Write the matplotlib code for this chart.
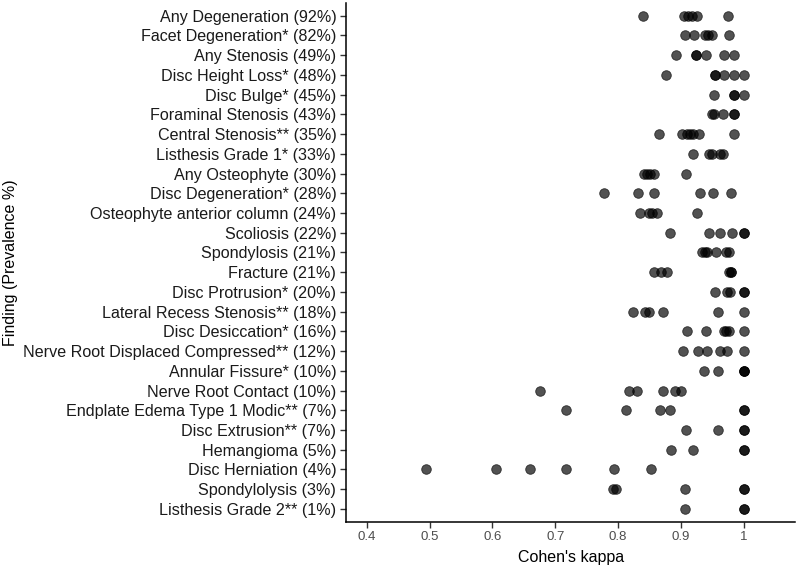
import matplotlib.pyplot as plt

plt.rcParams['font.family'] = ['Liberation Sans', 'DejaVu Sans']

# Findings, top to bottom
findings = [
    'Any Degeneration (92%)', 'Facet Degeneration* (82%)', 'Any Stenosis (49%)',
    'Disc Height Loss* (48%)', 'Disc Bulge* (45%)', 'Foraminal Stenosis (43%)',
    'Central Stenosis** (35%)', 'Listhesis Grade 1* (33%)', 'Any Osteophyte (30%)',
    'Disc Degeneration* (28%)', 'Osteophyte anterior column (24%)', 'Scoliosis (22%)',
    'Spondylosis (21%)', 'Fracture (21%)', 'Disc Protrusion* (20%)',
    'Lateral Recess Stenosis** (18%)', 'Disc Desiccation* (16%)',
    'Nerve Root Displaced Compressed** (12%)', 'Annular Fissure* (10%)',
    'Nerve Root Contact (10%)', 'Endplate Edema Type 1 Modic** (7%)',
    'Disc Extrusion** (7%)', 'Hemangioma (5%)', 'Disc Herniation (4%)',
    'Spondylolysis (3%)', 'Listhesis Grade 2** (1%)',
]

# Cohen's kappa values per finding
kappas = [
    [0.839, 0.905, 0.911, 0.918, 0.925, 0.975],
    [0.906, 0.921, 0.939, 0.943, 0.949, 0.977],
    [0.893, 0.924, 0.924, 0.940, 0.969, 0.985],
    [0.877, 0.955, 0.955, 0.969, 0.985, 1.0],
    [0.953, 0.985, 0.985, 1.0],
    [0.949, 0.953, 0.967, 0.985, 0.985],
    [0.866, 0.902, 0.910, 0.915, 0.919, 0.929, 0.984],
    [0.919, 0.945, 0.950, 0.963, 0.967],
    [0.842, 0.846, 0.851, 0.857, 0.908],
    [0.778, 0.832, 0.857, 0.930, 0.951, 0.980],
    [0.835, 0.849, 0.854, 0.862, 0.925],
    [0.883, 0.944, 0.963, 0.981, 1.0, 1.0],
    [0.933, 0.938, 0.942, 0.956, 0.972, 0.977],
    [0.857, 0.868, 0.878, 0.976, 0.980, 0.980],
    [0.955, 0.973, 0.978, 1.0, 1.0],
    [0.824, 0.843, 0.849, 0.871, 0.959, 1.0],
    [0.910, 0.940, 0.968, 0.972, 0.976, 1.0],
    [0.904, 0.928, 0.942, 0.962, 0.973, 1.0],
    [0.937, 0.959, 1.0, 1.0, 1.0],
    [0.676, 0.817, 0.830, 0.871, 0.891, 0.901],
    [0.717, 0.812, 0.867, 0.882, 1.0, 1.0],
    [0.908, 0.959, 1.0, 1.0],
    [0.885, 0.920, 1.0, 1.0],
    [0.495, 0.605, 0.660, 0.717, 0.793, 0.853],
    [0.792, 0.796, 0.906, 1.0, 1.0],
    [0.906, 1.0, 1.0],
]

xticks = [0.4, 0.5, 0.6, 0.7, 0.8, 0.9, 1.0]
xtick_labels = ['0.4', '0.5', '0.6', '0.7', '0.8', '0.9', '1']

fig = plt.figure(figsize=(8, 5.71), dpi=100)
ax = fig.add_axes([0.4325, 0.0863, 0.5615, 0.9087])

for i, vals in enumerate(kappas):
    ax.scatter(vals, [i] * len(vals), s=48, color='black', alpha=0.68,
               linewidths=0.6, edgecolors='black', zorder=3)

ax.set_ylim(25.65, -0.65)
ax.set_xlim(0.367, 1.082)
ax.set_yticks(range(len(findings)))
ax.set_yticklabels(findings, fontsize=11.6, color='#1a1a1a')
ax.set_xticks(xticks)
ax.set_xticklabels(xtick_labels, fontsize=9.5, color='#4d4d4d')

for side in ['top', 'right']:
    ax.spines[side].set_visible(False)
for side in ['left', 'bottom']:
    ax.spines[side].set_linewidth(1.1)
ax.tick_params(length=4, width=1, color='#333333', pad=3)

ax.set_xlabel("Cohen's kappa", fontsize=11.5, labelpad=5)
ax.set_ylabel('Finding (Prevalence %)', fontsize=11.5, labelpad=4)

fig.savefig('out.png', dpi=100)
